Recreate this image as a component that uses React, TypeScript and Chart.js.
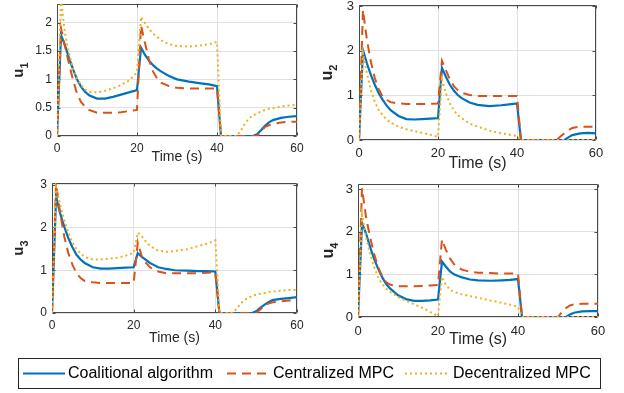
import React, { useEffect, useRef } from "react";
import { Chart, registerables } from "chart.js";

Chart.register(...registerables);

// ---------------- DATA ----------------
const time = [0, 1, 2, 3, 4, 5, 6, 7, 8, 10, 12, 14, 16, 18, 20, 21, 22, 23, 24, 25, 26, 28, 30, 33, 36, 38, 40, 41, 44, 45, 46, 47, 48, 49, 50, 51, 52, 53, 54, 56, 58, 60];

const coal1 = [0, 1.78, 1.6, 1.38, 1.18, 1.0, 0.87, 0.78, 0.72, 0.66, 0.66, 0.69, 0.73, 0.77, 0.81, 1.56, 1.43, 1.33, 1.25, 1.19, 1.14, 1.06, 1.0, 0.96, 0.93, 0.91, 0.88, 0, 0, 0, 0, 0, 0, 0, 0.03, 0.1, 0.18, 0.24, 0.28, 0.32, 0.34, 0.35];
const cent1 = [0, 1.9, 1.58, 1.28, 0.99, 0.75, 0.6, 0.52, 0.46, 0.41, 0.41, 0.41, 0.42, 0.44, 0.46, 1.95, 1.64, 1.34, 1.14, 1.02, 0.94, 0.88, 0.85, 0.84, 0.84, 0.84, 0.84, 0, 0, 0, 0, 0, 0, 0, 0, 0.08, 0.16, 0.19, 0.21, 0.24, 0.25, 0.25];
const dec1 = [0, 2.4, 1.81, 1.46, 1.19, 1.02, 0.9, 0.82, 0.78, 0.77, 0.8, 0.84, 0.9, 0.98, 1.12, 2.1, 1.99, 1.89, 1.81, 1.75, 1.69, 1.62, 1.59, 1.58, 1.6, 1.62, 1.66, 0, 0, 0, 0.1, 0.22, 0.31, 0.36, 0.4, 0.43, 0.46, 0.48, 0.49, 0.52, 0.54, 0.55];

const coal2 = [0, 2.02, 1.72, 1.46, 1.24, 1.05, 0.9, 0.77, 0.67, 0.54, 0.47, 0.46, 0.47, 0.48, 0.49, 1.62, 1.42, 1.24, 1.11, 1.01, 0.94, 0.84, 0.79, 0.76, 0.78, 0.8, 0.82, 0, 0, 0, 0, 0, 0, 0, 0, 0, 0, 0.06, 0.11, 0.15, 0.16, 0.15];
const cent2 = [0, 2.92, 2.25, 1.76, 1.39, 1.14, 0.97, 0.9, 0.85, 0.82, 0.81, 0.81, 0.81, 0.81, 0.82, 1.78, 1.57, 1.36, 1.21, 1.12, 1.06, 1.01, 0.99, 0.99, 0.99, 0.99, 0.99, 0, 0, 0, 0, 0, 0, 0, 0, 0.08, 0.15, 0.22, 0.27, 0.3, 0.3, 0.3];
const dec2 = [0, 1.95, 1.5, 1.12, 0.86, 0.67, 0.56, 0.46, 0.39, 0.3, 0.24, 0.2, 0.16, 0.12, 0.07, 1.35, 1.05, 0.82, 0.67, 0.56, 0.49, 0.37, 0.3, 0.21, 0.15, 0.12, 0.09, 0, 0, 0, 0, 0, 0, 0, 0, 0, 0, 0, 0, 0, 0, 0];

const coal3 = [0, 2.72, 2.33, 2.02, 1.75, 1.54, 1.36, 1.25, 1.17, 1.07, 1.04, 1.04, 1.05, 1.06, 1.07, 1.4, 1.31, 1.24, 1.17, 1.12, 1.07, 1.03, 1.0, 0.99, 0.98, 0.98, 0.97, 0, 0, 0, 0, 0, 0, 0, 0.04, 0.12, 0.19, 0.25, 0.3, 0.33, 0.35, 0.37];
const cent3 = [0, 3.03, 2.33, 1.79, 1.4, 1.13, 0.93, 0.82, 0.75, 0.72, 0.7, 0.7, 0.7, 0.7, 0.7, 1.65, 1.32, 1.17, 1.07, 1.01, 0.97, 0.93, 0.93, 0.93, 0.93, 0.94, 0.95, 0, 0, 0, 0, 0, 0, 0, 0, 0.08, 0.17, 0.22, 0.25, 0.27, 0.29, 0.29];
const dec3 = [0, 2.95, 2.53, 2.18, 1.87, 1.65, 1.49, 1.39, 1.31, 1.25, 1.25, 1.27, 1.29, 1.34, 1.4, 1.88, 1.79, 1.67, 1.57, 1.51, 1.46, 1.43, 1.45, 1.49, 1.57, 1.62, 1.7, 0, 0, 0.08, 0.19, 0.3, 0.35, 0.4, 0.43, 0.45, 0.47, 0.49, 0.5, 0.52, 0.54, 0.54];

const coal4 = [0, 2.2, 1.96, 1.65, 1.37, 1.14, 0.94, 0.78, 0.67, 0.51, 0.42, 0.38, 0.38, 0.39, 0.41, 1.3, 1.18, 1.07, 1.0, 0.96, 0.93, 0.88, 0.86, 0.85, 0.86, 0.87, 0.89, 0, 0, 0, 0, 0, 0, 0, 0, 0, 0, 0.06, 0.1, 0.13, 0.14, 0.14];
const cent4 = [0, 3.02, 2.35, 1.88, 1.49, 1.18, 0.96, 0.82, 0.76, 0.72, 0.72, 0.72, 0.73, 0.74, 0.75, 1.82, 1.57, 1.37, 1.24, 1.16, 1.11, 1.06, 1.04, 1.03, 1.02, 1.02, 1.02, 0, 0, 0, 0, 0, 0, 0, 0, 0.12, 0.21, 0.27, 0.3, 0.31, 0.31, 0.31];
const dec4 = [0, 2.39, 1.88, 1.49, 1.18, 0.94, 0.78, 0.67, 0.59, 0.47, 0.38, 0.3, 0.22, 0.12, 0.02, 0.94, 0.75, 0.64, 0.59, 0.56, 0.53, 0.49, 0.45, 0.39, 0.33, 0.29, 0.24, 0, 0, 0, 0, 0, 0, 0, 0, 0, 0, 0, 0, 0, 0, 0];

const xTicks = [0, 20, 40, 60];
const yTicksU1 = [0, 0.5, 1, 1.5, 2];
const yTicksU = [0, 1, 2, 3];
const yMaxes = [2.33, 3.03, 3.04, 3.12];
const subscripts = ["1", "2", "3", "4"];
const seriesNames = ["Coalitional algorithm", "Centralized MPC", "Decentralized MPC"];
const xTitle = "Time (s)";
const yBase = "u";

// ---------------- STYLE / LAYOUT ----------------
const FONT = '"Liberation Sans", Arial, Helvetica, sans-serif';
const BLUE = "#0072BD";
const ORANGE = "#D95319";
const YELLOW = "#EDB120";
const GRID = "#e1e1e1";
const AXIS = "#4a4a4a";
const TEXT = "#262626";

const panels = [
  { coal: coal1, cent: cent1, dec: dec1, yTicks: yTicksU1 },
  { coal: coal2, cent: cent2, dec: dec2, yTicks: yTicksU },
  { coal: coal3, cent: cent3, dec: dec3, yTicks: yTicksU },
  { coal: coal4, cent: cent4, dec: dec4, yTicks: yTicksU },
];

interface Layout {
  left: number; top: number; width: number; height: number;
  area: [number, number, number, number];
  tickFont: number; tickPad: number; titleFont: number; titleOff: number; ylabOff: number;
  uFont: number; subFont: number;
}

const layouts: Layout[] = [
  { left: 0, top: -12, width: 312, height: 182, area: [57, 4, 297, 136], tickFont: 12, tickPad: 5, titleFont: 14, titleOff: 21, ylabOff: 34, uFont: 15, subFont: 11 },
  { left: 312, top: -12, width: 312, height: 184, area: [359, 5, 596, 140], tickFont: 13, tickPad: 6, titleFont: 16, titleOff: 24, ylabOff: 27, uFont: 16, subFont: 11 },
  { left: 0, top: 168, width: 312, height: 182, area: [52, 183, 297, 313], tickFont: 12, tickPad: 5, titleFont: 14, titleOff: 25, ylabOff: 29, uFont: 15, subFont: 11 },
  { left: 312, top: 168, width: 312, height: 184, area: [358, 184, 598, 317], tickFont: 13, tickPad: 7, titleFont: 16, titleOff: 23, ylabOff: 25, uFont: 16, subFont: 11 },
];

function Panel({ idx }: { idx: number }) {
  const ref = useRef<HTMLCanvasElement | null>(null);
  const L = layouts[idx];
  useEffect(() => {
    if (!ref.current) return;
    const P = panels[idx];
    const [al, at, ar, ab] = L.area;
    const pts = (ys: number[]) => time.map((t, i) => ({ x: t, y: ys[i] }));

    const decor = {
      id: "decor" + idx,
      beforeDatasetsDraw(chart: any) {
        const { ctx, chartArea: ca } = chart;
        const xs = chart.scales.x;
        const ys = chart.scales.y;
        ctx.save();
        ctx.strokeStyle = AXIS;
        ctx.lineWidth = 1;
        ctx.beginPath();
        const l = Math.round(ca.left) + 0.5, r = Math.round(ca.right) - 0.5;
        const t = Math.round(ca.top) + 0.5, b = Math.round(ca.bottom) - 0.5;
        ctx.moveTo(l, t); ctx.lineTo(r, t); ctx.lineTo(r, b); ctx.lineTo(l, b); ctx.closePath();
        const tl = 3;
        xTicks.forEach((v) => {
          const px = Math.round(xs.getPixelForValue(v)) + 0.5;
          ctx.moveTo(px, b); ctx.lineTo(px, b - tl);
          ctx.moveTo(px, t); ctx.lineTo(px, t + tl);
        });
        P.yTicks.forEach((v) => {
          const py = Math.round(ys.getPixelForValue(v)) + 0.5;
          ctx.moveTo(l, py); ctx.lineTo(l + tl, py);
          ctx.moveTo(r, py); ctx.lineTo(r - tl, py);
        });
        ctx.stroke();
        ctx.restore();
      },
      afterDraw(chart: any) {
        const { ctx, chartArea: ca } = chart;
        ctx.save();
        ctx.fillStyle = TEXT;
        // x title
        ctx.font = `${L.titleFont}px ${FONT}`;
        ctx.textAlign = "center";
        ctx.textBaseline = "middle";
        ctx.fillText(xTitle, (ca.left + ca.right) / 2, ca.bottom + L.titleOff);
        // y title with subscript
        ctx.translate(ca.left - L.ylabOff, (ca.top + ca.bottom) / 2);
        ctx.rotate(-Math.PI / 2);
        ctx.textAlign = "left";
        ctx.textBaseline = "alphabetic";
        ctx.font = `bold ${L.uFont}px ${FONT}`;
        const wu = ctx.measureText(yBase).width;
        ctx.font = `bold ${L.subFont}px ${FONT}`;
        const ws = ctx.measureText(subscripts[idx]).width;
        const x0 = -(wu + ws) / 2;
        ctx.font = `bold ${L.uFont}px ${FONT}`;
        ctx.fillText(yBase, x0, 0);
        ctx.font = `bold ${L.subFont}px ${FONT}`;
        ctx.fillText(subscripts[idx], x0 + wu, 5);
        ctx.restore();
      },
    };

    const chart = new Chart(ref.current, {
      type: "line",
      data: {
        datasets: [
          { label: seriesNames[2], data: pts(P.dec), borderColor: YELLOW, backgroundColor: YELLOW, borderWidth: 2, borderDash: [2, 3], pointRadius: 0, fill: false, tension: 0 },
          { label: seriesNames[1], data: pts(P.cent), borderColor: ORANGE, backgroundColor: ORANGE, borderWidth: 2, borderDash: [9, 6], pointRadius: 0, fill: false, tension: 0 },
          { label: seriesNames[0], data: pts(P.coal), borderColor: BLUE, backgroundColor: BLUE, borderWidth: 2.2, pointRadius: 0, fill: false, tension: 0 },
        ],
      },
      options: {
        animation: false,
        responsive: false,
        maintainAspectRatio: false,
        events: [],
        layout: { padding: { left: 0, top: at - L.top, right: L.left + L.width - ar, bottom: 0 } },
        plugins: { legend: { display: false }, tooltip: { enabled: false } },
        scales: {
          x: {
            type: "linear",
            min: 0,
            max: 60,
            afterBuildTicks: (sc: any) => { sc.ticks = xTicks.map((v) => ({ value: v })); },
            afterFit: (sc: any) => { sc.height = L.top + L.height - ab; },
            grid: { color: GRID, drawTicks: false, lineWidth: 1 },
            border: { display: false },
            ticks: { color: TEXT, font: { family: FONT, size: L.tickFont }, padding: L.tickPad, maxRotation: 0, autoSkip: false, callback: (v: any) => String(v) },
          },
          y: {
            type: "linear",
            min: 0,
            max: yMaxes[idx],
            afterBuildTicks: (sc: any) => { sc.ticks = P.yTicks.map((v) => ({ value: v })); },
            afterFit: (sc: any) => { sc.width = al - L.left; },
            grid: { color: GRID, drawTicks: false, lineWidth: 1 },
            border: { display: false },
            ticks: { color: TEXT, font: { family: FONT, size: L.tickFont }, padding: 5, autoSkip: false, callback: (v: any) => String(v) },
          },
        },
      },
      plugins: [decor],
    } as any);
    return () => chart.destroy();
  }, [idx]);
  return (
    <canvas
      ref={ref}
      width={L.width}
      height={L.height}
      style={{ position: "absolute", left: L.left, top: L.top, width: L.width, height: L.height }}
    />
  );
}

export default function App() {
  const legendText: React.CSSProperties = {
    position: "absolute", top: 364, fontFamily: FONT, fontSize: 16, lineHeight: "18px", color: "#000", whiteSpace: "nowrap",
  };
  return (
    <div style={{ position: "fixed", left: 0, top: 0, width: 624, height: 393, background: "#fff", overflow: "hidden" }}>
      {[0, 1, 2, 3].map((i) => <Panel key={i} idx={i} />)}
      <div style={{ position: "absolute", left: 18, top: 358, width: 583, height: 31, border: "1px solid #262626", boxSizing: "border-box", background: "#fff" }} />
      <svg width={624} height={393} style={{ position: "absolute", left: 0, top: 0 }}>
        <line x1={23} y1={373.5} x2={65} y2={373.5} stroke={BLUE} strokeWidth={2.2} />
        <line x1={227} y1={373.5} x2={268} y2={373.5} stroke={ORANGE} strokeWidth={2} strokeDasharray="9 6" />
        <line x1={405} y1={373.5} x2={448} y2={373.5} stroke={YELLOW} strokeWidth={2} strokeDasharray="2 3" />
      </svg>
      <span style={{ ...legendText, left: 68 }}>{seriesNames[0]}</span>
      <span style={{ ...legendText, left: 273 }}>{seriesNames[1]}</span>
      <span style={{ ...legendText, left: 453 }}>{seriesNames[2]}</span>
    </div>
  );
}
